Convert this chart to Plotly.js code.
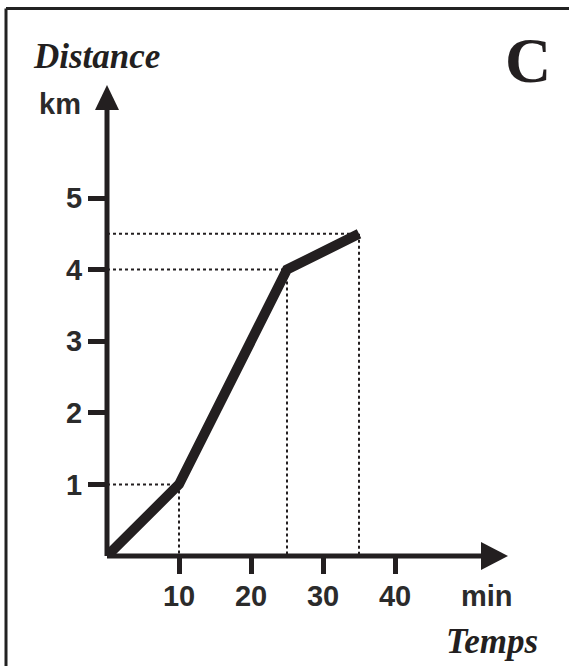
<!DOCTYPE html>
<html>
<head>
<meta charset="utf-8">
<script src="https://cdn.plot.ly/plotly-3.0.1.min.js"></script>
<style>html,body{margin:0;padding:0;background:#fff;}#chart{width:569px;height:666px;}</style>
</head>
<body>
<div id="chart"></div>
<script>
// Data
var timeMin = [0, 10, 25, 35];
var distanceKm = [0, 1, 4, 4.5];
var guidePointsX = [10, 25, 35];
var guidePointsY = [1, 4, 4.5];
var xTickVals = [10, 20, 30, 40];
var xTickText = ['10', '20', '30', '40'];
var yTickVals = [1, 2, 3, 4, 5];
var yTickText = ['1', '2', '3', '4', '5'];

var INK = '#231f20';
var W = 569, H = 666;
var M = {l: 107, r: 61, t: 85, b: 110};
var PW = W - M.l - M.r, PH = H - M.t - M.b;
function px(x) { return (x - M.l) / PW; }
function py(y) { return (H - M.b - y) / PH; }

var traces = [];
for (var i = 0; i < guidePointsX.length; i++) {
  traces.push({
    x: [0, guidePointsX[i], guidePointsX[i]],
    y: [guidePointsY[i], guidePointsY[i], 0],
    mode: 'lines',
    line: {color: INK, width: 2, dash: 'dot'},
    hoverinfo: 'skip', showlegend: false, cliponaxis: false
  });
}
traces.push({
  x: timeMin, y: distanceKm, mode: 'lines',
  line: {color: INK, width: 10},
  showlegend: false, cliponaxis: false
});

var tickFont = {family: 'Liberation Sans, Arial, sans-serif', size: 29, weight: 'bold', color: '#2b2b2b'};
var serifFont = function (s) { return {family: 'Liberation Serif, Times New Roman, serif', size: s, weight: 'bold', style: 'italic', color: INK}; };

var layout = {
  width: W, height: H,
  margin: M,
  paper_bgcolor: '#fff', plot_bgcolor: 'rgba(0,0,0,0)',
  showlegend: false,
  xaxis: {
    range: [0, PW / 7.2], showgrid: false, zeroline: false, showline: false,
    tickmode: 'array', tickvals: xTickVals, ticktext: xTickText,
    ticks: 'outside', ticklen: 17, tickwidth: 5, tickcolor: INK,
    ticklabelstandoff: -3,
    tickfont: tickFont, fixedrange: true
  },
  yaxis: {
    range: [0, PH / 71.6], showgrid: false, zeroline: false, showline: false,
    tickmode: 'array', tickvals: yTickVals, ticktext: yTickText,
    ticks: 'outside', ticklen: 18, tickwidth: 5, tickcolor: INK,
    tickfont: tickFont, fixedrange: true
  },
  shapes: [
    {type: 'line', xref: 'paper', yref: 'paper', x0: 0, y0: 0, x1: 1 - 20 / PW, y1: 0, line: {color: INK, width: 5}},
    {type: 'line', xref: 'paper', yref: 'paper', x0: 0, y0: 0, x1: 0, y1: 1 - 18 / PH, line: {color: INK, width: 5}},
    {type: 'path', xref: 'paper', yref: 'paper', xsizemode: 'pixel', ysizemode: 'pixel', xanchor: 1, yanchor: 0,
     path: 'M -27,14 L 0,0 L -27,-14 Z', fillcolor: INK, line: {width: 0}},
    {type: 'path', xref: 'paper', yref: 'paper', xsizemode: 'pixel', ysizemode: 'pixel', xanchor: 0, yanchor: 1,
     path: 'M -12,-25 L 0,0 L 12,-25 Z', fillcolor: INK, line: {width: 0}},
    {type: 'line', xref: 'paper', yref: 'paper', x0: px(6), y0: py(8.5), x1: px(575), y1: py(8.5), line: {color: '#222', width: 3}},
    {type: 'line', xref: 'paper', yref: 'paper', x0: px(6), y0: py(8.5), x1: px(6), y1: py(670), line: {color: '#222', width: 3}}
  ],
  annotations: [
    {text: 'Distance', xref: 'paper', yref: 'paper', x: px(31), y: py(56), xanchor: 'left', yanchor: 'middle', showarrow: false, font: serifFont(35)},
    {text: 'C', xref: 'paper', yref: 'paper', x: px(528), y: py(60), xanchor: 'center', yanchor: 'middle', showarrow: false,
     font: {family: 'Liberation Serif, Times New Roman, serif', size: 64, weight: 'bold', color: INK}},
    {text: 'km', xref: 'paper', yref: 'paper', x: px(60), y: py(104), xanchor: 'center', yanchor: 'middle', showarrow: false, font: tickFont},
    {text: 'min', xref: 'paper', yref: 'paper', x: px(487), y: py(596), xanchor: 'center', yanchor: 'middle', showarrow: false, font: tickFont},
    {text: 'Temps', xref: 'paper', yref: 'paper', x: px(492), y: py(641), xanchor: 'center', yanchor: 'middle', showarrow: false, font: serifFont(35)}
  ]
};

Plotly.newPlot('chart', traces, layout, {displayModeBar: false, staticPlot: true});
</script>
</body>
</html>
